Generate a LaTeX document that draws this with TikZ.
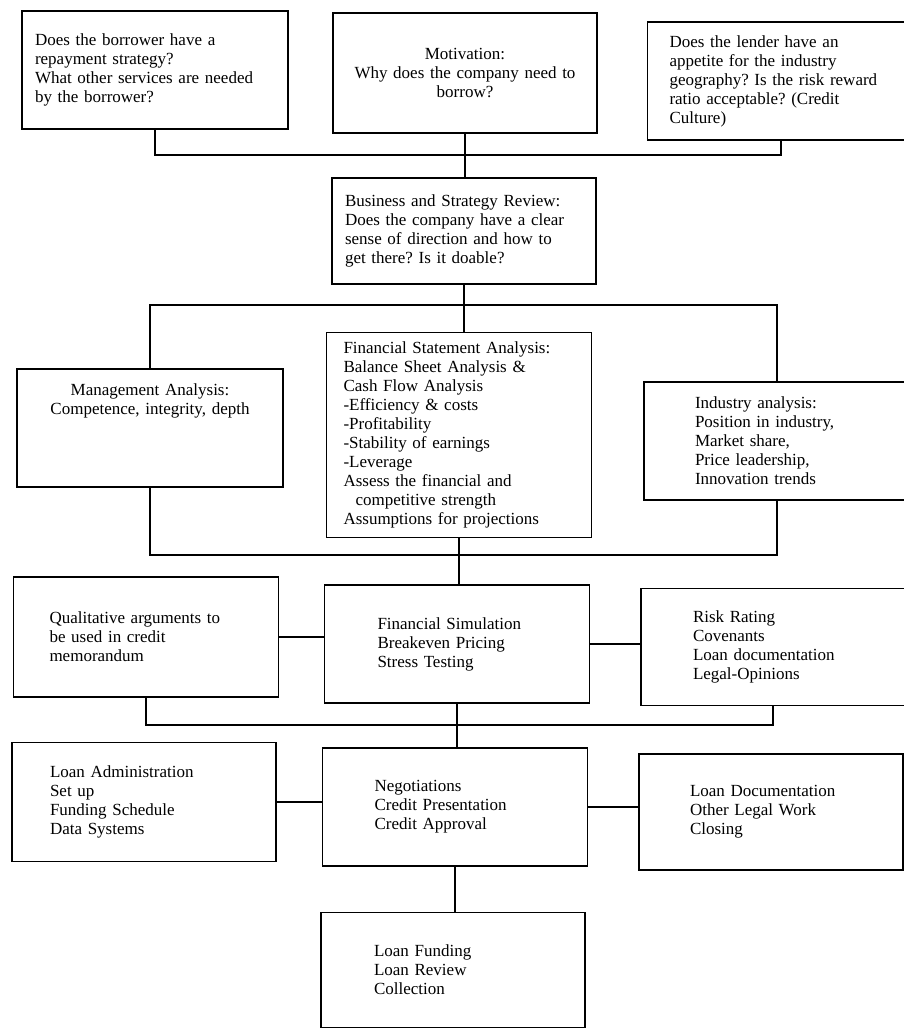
\documentclass[tikz,border=0pt]{standalone}
\usepackage{fontspec}
\setmainfont{Liberation Serif}
\frenchspacing
\usetikzlibrary{positioning}
\tikzset{
  box/.style={draw, rectangle, line width=1.3pt, inner ysep=0pt, align=left,
    font=\fontsize{17}{19}\selectfont},
  link/.style={line width=1.3pt}
}
\begin{document}
\begin{tikzpicture}[x=1pt, y=1pt, node distance=311pt]
  \useasboundingbox (0,0) rectangle (903,1031);
  % top row
  \node[box, align=center, inner xsep=13pt, text width=238pt, minimum height=120pt] (motive) at (465,958)
    {Motivation:\\Why does the company need to\\borrow?};
  \node[box, inner xsep=13pt, text width=240pt, minimum height=118pt] (repay) [left of=motive, xshift=1pt, yshift=3pt]
    {Does the borrower have a\\repayment strategy?\\What other services are needed\\by the borrower?};
  \node[box, inner xsep=22pt, text width=223pt, minimum height=118pt] (lender) [right of=motive, xshift=5pt, yshift=-8pt]
    {Does the lender have an\\appetite for the industry\\geography? Is the risk reward\\ratio acceptable? (Credit\\Culture)};
  \node[box, inner xsep=13pt, text width=238pt, minimum height=106pt] (review) at (464,800)
    {Business and Strategy Review:\\Does the company have a clear\\sense of direction and how to\\get there? Is it doable?};
  % analysis row
  \node[box, inner xsep=17pt, text width=231pt, minimum height=205pt] (fin) at (459,596)
    {Financial Statement Analysis:\\Balance Sheet Analysis \&\\Cash Flow Analysis\\-Efficiency \& costs\\-Profitability\\-Stability of earnings\\-Leverage\\Assess the financial and\\\hspace*{12pt}competitive strength\\Assumptions for projections};
  \node[box, align=center, inner xsep=13pt, text width=240pt, minimum height=118pt] (mgmt) [left of=fin, xshift=2pt, yshift=7pt]
    {Management Analysis:\\Competence, integrity, depth\\[38pt]\mbox{}};
  \node[box, inner xsep=51pt, text width=164pt, minimum height=118pt] (industry) [right of=fin, xshift=7pt, yshift=-6pt]
    {Industry analysis:\\Position in industry,\\Market share,\\Price leadership,\\Innovation trends};
  % simulation row
  \node[box, inner xsep=53pt, text width=159pt, minimum height=118pt] (sim) at (457,387)
    {Financial Simulation\\Breakeven Pricing\\Stress Testing};
  \node[box, inner xsep=36pt, text width=193pt, minimum height=120pt] (qual) [left of=sim, yshift=7pt]
    {Qualitative arguments to\\be used in credit\\memorandum};
  \node[box, inner xsep=52pt, text width=160pt, minimum height=117pt] (risk) [right of=sim, xshift=5pt, yshift=-3pt]
    {Risk Rating\\Covenants\\Loan documentation\\Legal-Opinions};
  % negotiation row
  \node[box, inner xsep=52pt, text width=161pt, minimum height=118pt] (nego) at (455,224)
    {Negotiations\\Credit Presentation\\Credit Approval};
  \node[box, inner xsep=38pt, text width=188pt, minimum height=119pt] (admin) [left of=nego, yshift=5pt]
    {Loan Administration\\Set up\\Funding Schedule\\Data Systems};
  \node[box, inner xsep=51pt, text width=162pt, minimum height=116pt] (docs) [right of=nego, xshift=5pt, yshift=-5pt]
    {Loan Documentation\\Other Legal Work\\Closing};
  \node[box, inner xsep=53pt, text width=158pt, minimum height=115pt] (fund) at (453,61)
    {Loan Funding\\Loan Review\\Collection};

  \coordinate (bar1) at (0,876);
  \coordinate (bar2) at (0,726);
  \coordinate (bar3) at (0,476);
  \coordinate (bar4) at (0,306);

  % tree bars joining each row
  \draw[link] (repay.south) -- (repay.south |- bar1) -| (lender.south);
  \draw[link] (motive.south) -- (motive.south |- review.north);
  \draw[link] (mgmt.north) -- (mgmt.north |- bar2) -| (industry.north);
  \draw[link] (review.south) -- (review.south |- fin.north);
  \draw[link] (mgmt.south) -- (mgmt.south |- bar3) -| (industry.south);
  \draw[link] (fin.south) -- (fin.south |- sim.north);
  \draw[link] (qual.east) -- (qual.east -| sim.west);
  \draw[link] (sim.east) -- (sim.east -| risk.west);
  \draw[link] (qual.south) -- (qual.south |- bar4) -| (risk.south);
  \draw[link] (sim.south) -- (sim.south |- nego.north);
  \draw[link] (admin.east) -- (admin.east -| nego.west);
  \draw[link] (nego.east) -- (nego.east -| docs.west);
  \draw[link] (nego.south) -- (nego.south |- fund.north);
\end{tikzpicture}
\end{document}
